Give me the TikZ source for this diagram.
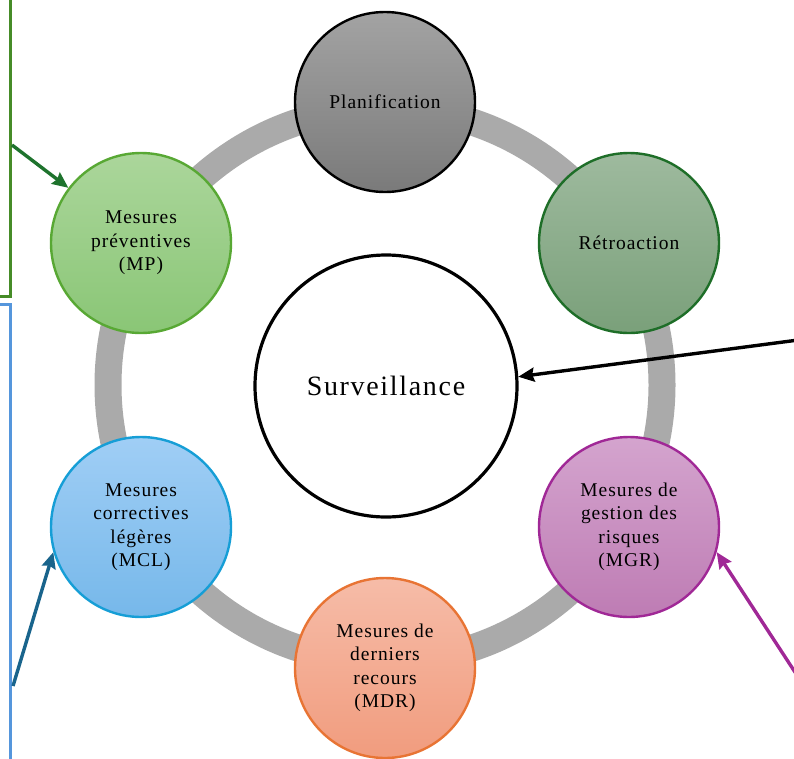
\documentclass[tikz,border=0pt]{standalone}
\usepackage{fontspec}
\setmainfont{Liberation Serif}
\usepackage{xcolor}
\usetikzlibrary{arrows.meta,positioning,calc}

\definecolor{ringgray}{RGB}{170,170,170}
\definecolor{planA}{RGB}{163,163,163}
\definecolor{planB}{RGB}{122,122,122}
\definecolor{retroA}{RGB}{158,186,158}
\definecolor{retroB}{RGB}{122,160,122}
\definecolor{retroD}{RGB}{30,110,40}
\definecolor{mpA}{RGB}{171,214,155}
\definecolor{mpB}{RGB}{138,198,118}
\definecolor{mpD}{RGB}{88,168,52}
\definecolor{mclA}{RGB}{160,206,245}
\definecolor{mclB}{RGB}{118,184,234}
\definecolor{mclD}{RGB}{22,158,214}
\definecolor{mgrA}{RGB}{212,164,206}
\definecolor{mgrB}{RGB}{190,124,180}
\definecolor{mgrD}{RGB}{160,40,150}
\definecolor{mdrA}{RGB}{246,188,168}
\definecolor{mdrB}{RGB}{241,156,126}
\definecolor{mdrD}{RGB}{232,116,52}
\definecolor{boxgreen}{RGB}{70,140,40}
\definecolor{boxblue}{RGB}{85,150,220}
\definecolor{arrgreen}{RGB}{30,115,45}
\definecolor{arrblue}{RGB}{25,100,140}

\begin{document}
\begin{tikzpicture}[x=1pt, y=-1pt,
    every node/.style={font=\fontsize{19.5}{23.5}\selectfont\addfontfeatures{LetterSpace=5}},
    phase/.style={circle, draw, line width=2.4pt, minimum size=180pt, inner sep=0pt, align=center},
    link/.style={-{Stealth[length=16pt,width=14pt,inset=2pt]}, line width=3.4pt}]
        \useasboundingbox (0,0) rectangle (794,758);
        \clip (0,0) rectangle (794,758);
        % ring behind the phases
        \coordinate (hub) at (385,385);
        \draw[line width=27pt, ringgray] (hub) circle [radius=277];
        % side boxes (cut off at the left)
        \node[draw=boxgreen, line width=3pt, minimum width=300pt, minimum height=360pt, anchor=south east] (notemp) at (12,298) {};
        \node[draw=boxblue, line width=3pt, minimum width=300pt, minimum height=500pt, anchor=north east] (notemcl) at (12,303) {};
        % phases
        \node[phase, draw=black, top color=planA, bottom color=planB] (plan) at (385,102) {Planification};
        \node[phase, draw=retroD, top color=retroA, bottom color=retroB] (retro) at (629,243) {Rétroaction};
        \node[phase, draw=mgrD, top color=mgrA, bottom color=mgrB] (mgr) at (629,527) {Mesures de\\gestion des\\risques\\(MGR)};
        \node[phase, draw=mdrD, top color=mdrA, bottom color=mdrB] (mdr) at (385,668) {Mesures de\\derniers\\recours\\(MDR)};
        \node[phase, draw=mclD, top color=mclA, bottom color=mclB] (mcl) at (141,527) {Mesures\\correctives\\légères\\(MCL)};
        \node[phase, draw=mpD, top color=mpA, bottom color=mpB] (mp) at (141,243) {Mesures\\préventives\\(MP)};
        \node[circle, draw, line width=3.2pt, minimum size=262pt, fill=white, font=\fontsize{28}{32}\selectfont\addfontfeatures{LetterSpace=6}] (surv) at (386,386) {Surveillance};
        % arrows from the notes
        \coordinate (mpfrom) at (12,145);
        \coordinate (mclfrom) at (13,686);
        \coordinate (mgrfrom) at (806,689);
        \coordinate (survfrom) at (806,339);
        \draw[link, arrgreen] (mpfrom) -- (mp);
        \draw[link, arrblue] (mclfrom) -- (mcl.196);
        \draw[link, mgrD] (mgrfrom) -- (mgr.344);
        \draw[link, black] (survfrom) -- (surv.4);
      \end{tikzpicture}
\end{document}
